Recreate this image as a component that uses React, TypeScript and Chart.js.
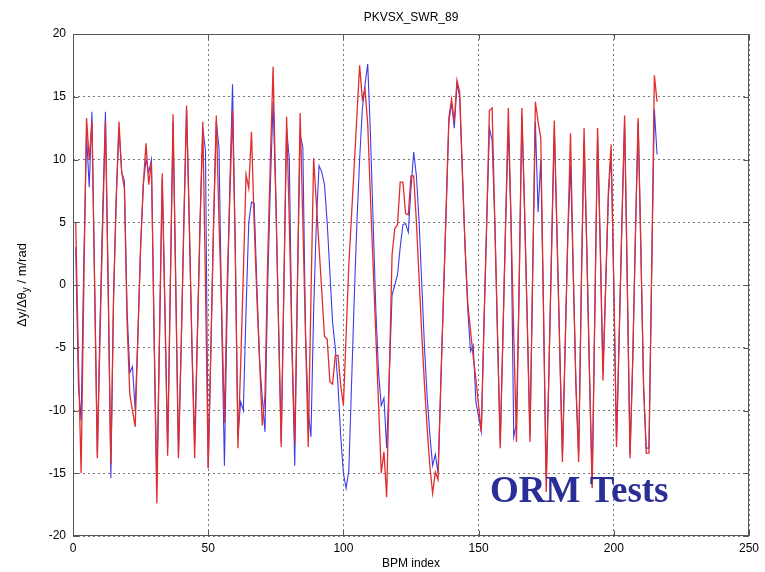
import { useEffect, useRef } from "react";
import { Chart, registerables } from "chart.js";

Chart.register(...registerables);

const titleText = "PKVSX_SWR_89";
const xAxisLabel = "BPM index";
const stampText = "ORM Tests";
const xTicks = [0, 50, 100, 150, 200, 250];
const yTicks = [-20, -15, -10, -5, 0, 5, 10, 15, 20];

// values at BPM index 1..216
const redValues = [
  5, -6, -15, 0, 13.3, 10, 13, 0, -13.8, -4,
  5, 13, 0, -14.3, -1, 7, 13, 9, 7.7, -3,
  -8.7, -10, -11.3, -4, 3, 8, 11.3, 8, 9.8, -4,
  -17.4, -4, 8.9, -2, -13.6, 0, 13.6, 0, -13.8, -5,
  5, 14.3, 5, -5, -13.8, -4, 5, 13, 0, -14.6,
  -5, 5, 13.5, 5, -2, -11, 0, 7, 13.9, 3,
  -13, -6.4, 1, 8.8, 7.7, 12.2, 5, -1, -6, -11.2,
  -8.8, 2, 10, 17.4, 7, -3, -12.9, 0, 13.4, 5,
  -5, -12.6, 0, 13.7, 5, -4, -12.9, -1, 10.1, 6.5,
  3, -0.5, -4.1, -4.3, -7.7, -7.9, -5.6, -5.6, -8, -9.6,
  -4, 1.6, 5.5, 9.5, 13.5, 17.5, 14.8, 15.6, 12.8, 7,
  1.5, -4, -9.5, -15, -13.3, -16.9, -7, 2.4, 4.5, 4.8,
  8.2, 8.2, 5.7, 5.6, 8.7, 8.7, 5, 0.5, -4, -8,
  -11.5, -14.5, -16.6, -14.9, -15.5, -8, -1, 6, 13.3, 14.8,
  13, 16.3, 15.4, 9, 3, -1.5, -3.6, -5.7, -7.5, -9.6,
  -11.7, -3, 5, 13.9, 14.1, 5, -4, -13, -4, 5,
  14.1, 5, -4, -12.5, 0, 14.1, 6, -3, -12.5, 1,
  14.6, 13, 11.7, -2, -16.5, -7, 3, 13.1, 4, -5,
  -14.1, -5, 4, 12.1, 1, -8, -14.1, 0, 12.5, 3,
  -7, -16.2, -2, 12.5, 3, -7.6, 0, 7.5, 11.2, 0,
  -12.9, -4, 5, 13.5, 0, -13.8, -6, 4, 13.3, 3,
  -8, -13.4, -13.4, 1, 16.7, 14.6,
];

const blueValues = [
  3, -8, -10.8, 2, 12, 7.8, 13.8, 0, -13.5, -3,
  6, 13.8, 0, -15.4, -1, 7, 12.5, 9, 8.3, -2,
  -7, -6.5, -10, -4, 3, 8, 10, 9, 10, -4,
  -16, -4, 8.5, -2, -13, 0, 13, 0, -13.5, -5,
  5, 14, 5, -5, -12.6, -4, 5, 12.5, 10.7, -14.6,
  -5, 5, 13, 10.9, -3, -14.4, -2, 8, 16, 3,
  -12, -9.3, -10, -2, 5, 6.6, 6.5, 0, -6, -9,
  -11.7, 0, 8, 14.6, 7, -3, -12.5, 0, 12.5, 10,
  -5, -14.4, 0, 12, 11, -4, -10, -12.1, -2, 5,
  9.5, 9, 8, 5, 1, -3, -5, -8, -12, -15,
  -16.2, -14.8, -8, -1.1, 5, 10, 14, 16, 17.6, 12,
  5, -2, -7, -9.6, -9, -13, -7, -0.8, 0, 0.8,
  3, 4.8, 4.9, 4.2, 7.7, 10.6, 8.7, 5, 0, -5,
  -9, -12, -14.4, -13.5, -15, -8, -1, 6, 13, 14.5,
  12.5, 16, 15, 9, 3, -2, -5.3, -4.8, -9.3, -10.5,
  -11.7, -3, 5, 12.5, 11.5, 5, -4, -12.5, -4, 5,
  12.6, 5, -12.1, -11, 0, 13.5, 6, -3, -12, 1,
  13, 5.8, 10, -2, -15.5, -7, 3, 12.5, 4, -5,
  -13.5, -5, 4, 9.5, 1, -8, -13.5, 0, 11.5, 3,
  -7, -16, -2, 12, 3, -7, 0, 7, 10.5, 0,
  -12.5, -4, 5, 13, 0, -13.5, -6, 4, 13, 3,
  -8, -13, -13, 1, 14, 10.4,
];

const FONT = '"Liberation Sans", Arial, sans-serif';

export default function App() {
  const ref = useRef<HTMLCanvasElement>(null);

  useEffect(() => {
    if (!ref.current) return;
    const overlay = {
      id: "overlay",
      afterDraw(chart: any) {
        const { ctx, chartArea: a, scales } = chart;
        ctx.save();
        // axes box
        ctx.strokeStyle = "#555";
        ctx.lineWidth = 1;
        const L = Math.round(a.left) + 0.5;
        const R = Math.round(a.right) - 0.5;
        const T = Math.round(a.top) + 0.5;
        const B = Math.round(a.bottom) - 0.5;
        ctx.strokeRect(L, T, R - L, B - T);
        // inward ticks
        ctx.beginPath();
        for (const v of xTicks) {
          const px = Math.round(scales.x.getPixelForValue(v)) + 0.5;
          ctx.moveTo(px, B);
          ctx.lineTo(px, B - 5);
          ctx.moveTo(px, T);
          ctx.lineTo(px, T + 5);
        }
        for (const v of yTicks) {
          const py = Math.round(scales.y.getPixelForValue(v)) + 0.5;
          ctx.moveTo(L, py);
          ctx.lineTo(L + 5, py);
          ctx.moveTo(R, py);
          ctx.lineTo(R - 5, py);
        }
        ctx.stroke();

        // title
        ctx.fillStyle = "#000";
        ctx.font = `12px ${FONT}`;
        ctx.textAlign = "center";
        ctx.textBaseline = "middle";
        const cx = (a.left + a.right) / 2;
        ctx.fillText(titleText, cx, 18);
        // x label
        ctx.fillText(xAxisLabel, cx, 564);

        // y label with subscript
        ctx.save();
        ctx.translate(22, (a.top + a.bottom) / 2);
        ctx.rotate(-Math.PI / 2);
        const p1 = "\u0394y/\u0394\u03b8";
        const p2 = "y";
        const p3 = " / m/rad";
        ctx.font = `13px ${FONT}`;
        const w1 = ctx.measureText(p1).width;
        const w3 = ctx.measureText(p3).width;
        ctx.font = `10px ${FONT}`;
        const w2 = ctx.measureText(p2).width;
        const total = w1 + w2 + w3;
        let x0 = -total / 2;
        ctx.textAlign = "left";
        ctx.font = `13px ${FONT}`;
        ctx.fillText(p1, x0, 0);
        x0 += w1;
        ctx.font = `10px ${FONT}`;
        ctx.fillText(p2, x0, 4);
        x0 += w2;
        ctx.font = `13px ${FONT}`;
        ctx.fillText(p3, x0, 0);
        ctx.restore();

        // stamp
        ctx.font = `bold 37px "Liberation Serif", "Times New Roman", serif`;
        ctx.fillStyle = "#2b2e96";
        ctx.textAlign = "left";
        ctx.textBaseline = "alphabetic";
        ctx.fillText(stampText, 490, 502);
        ctx.restore();
      },
    };

    const chart = new Chart(ref.current, {
      type: "line",
      data: {
        datasets: [
          {
            label: "model",
            data: redValues.map((v, i) => ({ x: i + 1, y: v })),
            borderColor: "rgb(225,45,45)",
            borderWidth: 1.3,
            pointRadius: 0,
            tension: 0,
            fill: false,
          },
          {
            label: "measured",
            data: blueValues.map((v, i) => ({ x: i + 1, y: v })),
            borderColor: "rgb(60,60,235)",
            borderWidth: 1.1,
            pointRadius: 0,
            tension: 0,
            fill: false,
          },
        ],
      },
      options: {
        responsive: false,
        animation: false,
        events: [],
        layout: { padding: { top: 34, right: 16, left: 0, bottom: 0 } },
        plugins: {
          legend: { display: false },
          title: { display: false },
          tooltip: { enabled: false },
        },
        scales: {
          x: {
            type: "linear",
            min: 0,
            max: 250,
            ticks: {
              stepSize: 50,
              autoSkip: false,
              maxRotation: 0,
              color: "#000",
              padding: 5,
              font: { family: FONT, size: 12 },
            },
            grid: { color: "#777", lineWidth: 1, drawTicks: false },
            border: { display: false, dash: [2, 3] },
            afterFit: (s: any) => {
              s.height = 36;
            },
          },
          y: {
            type: "linear",
            min: -20,
            max: 20,
            ticks: {
              stepSize: 5,
              autoSkip: false,
              color: "#000",
              padding: 7,
              font: { family: FONT, size: 12 },
            },
            grid: { color: "#777", lineWidth: 1, drawTicks: false },
            border: { display: false, dash: [2, 3] },
            afterFit: (s: any) => {
              s.width = 73;
            },
          },
        },
      },
      plugins: [overlay],
    });
    return () => chart.destroy();
  }, []);

  return (
    <div
      style={{
        position: "absolute",
        left: 0,
        top: 0,
        width: 765,
        height: 572,
        background: "#fff",
      }}
    >
      <canvas ref={ref} width={765} height={572} style={{ display: "block" }} />
    </div>
  );
}
